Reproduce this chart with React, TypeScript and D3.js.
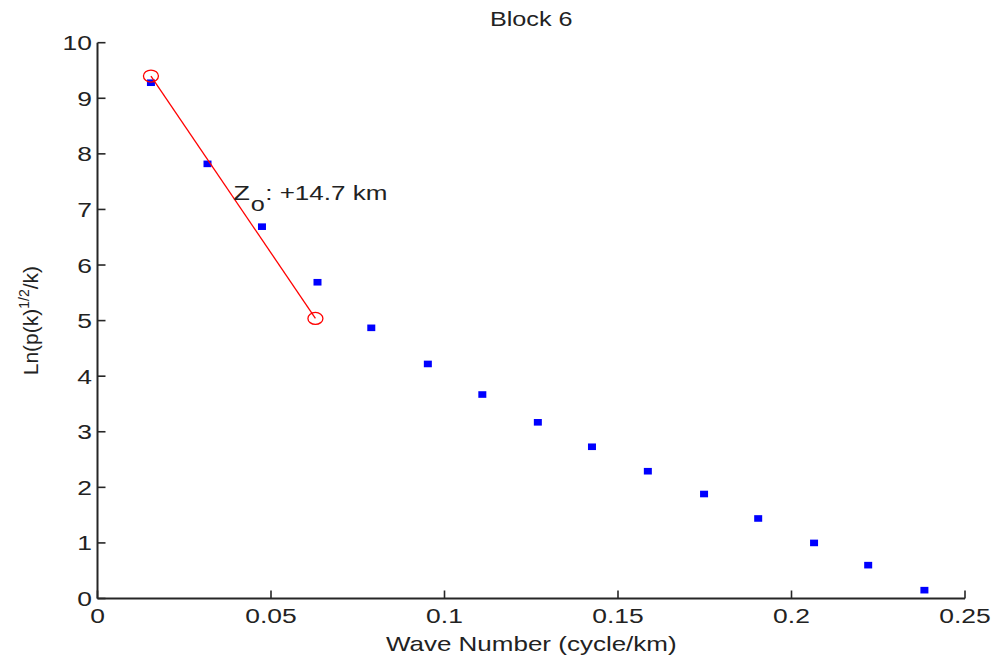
import React from "react";
import * as d3 from "d3";

const waveNumber = [0.0154, 0.0317, 0.0474, 0.0634, 0.0789, 0.0952, 0.1109, 0.1269, 0.1425, 0.1586, 0.1748, 0.1904, 0.2065, 0.2221, 0.2383];
const lnValues = [9.28, 7.82, 6.69, 5.69, 4.87, 4.22, 3.67, 3.17, 2.73, 2.29, 1.88, 1.44, 1.0, 0.6, 0.15];
const fitX = [0.0154, 0.0628];
const fitY = [9.4, 5.04];
const xTicks = [0, 0.05, 0.1, 0.15, 0.2, 0.25];
const xTickLabels = ["0", "0.05", "0.1", "0.15", "0.2", "0.25"];
const yTicks = [0, 1, 2, 3, 4, 5, 6, 7, 8, 9, 10];
const yTickLabels = ["0", "1", "2", "3", "4", "5", "6", "7", "8", "9", "10"];
const titleText = "Block 6";
const xLabel = "Wave Number (cycle/km)";
const annotPos = [0.0391, 7.3];

const W = 996;
const H = 664;
const SX = 1.26; // horizontal stretch of the figure's glyphs
const FONT = "'Liberation Sans', Arial, sans-serif";
const AX = "#262626";

export default function App() {
  const x = d3.scaleLinear().domain([0, 0.25]).range([97.5, 965]);
  const y = d3.scaleLinear().domain([0, 10]).range([598.5, 42.7]);
  const line = d3
    .line<number>()
    .x((_, i) => x(fitX[i]))
    .y((d) => y(d));

  const ax = x(annotPos[0]);
  const ay = y(annotPos[1]);

  return (
    <svg
      width={W}
      height={H}
      style={{ position: "absolute", left: 0, top: 0, background: "#fff" }}
      fontFamily={FONT}
    >
      <rect width={W} height={H} fill="#fff" />
      {/* title */}
      <text
        transform={`translate(${(x(0) + x(0.25)) / 2},26) scale(${SX},1)`}
        textAnchor="middle"
        fontSize={20}
        fill="#222"
      >
        {titleText}
      </text>

      {/* axes */}
      <line x1={x(0)} x2={x(0)} y1={y(0)} y2={y(10)} stroke={AX} strokeWidth={2} />
      <line x1={x(0)} x2={x(0.25)} y1={y(0)} y2={y(0)} stroke={AX} strokeWidth={2} />
      {xTicks.map((t, i) => (
        <g key={"xt" + i}>
          <line x1={x(t)} x2={x(t)} y1={y(0)} y2={y(0) - 8} stroke={AX} strokeWidth={1.6} />
          <text
            transform={`translate(${x(t)},623) scale(${SX},1)`}
            textAnchor="middle"
            fontSize={21}
            fill="#222"
          >
            {xTickLabels[i]}
          </text>
        </g>
      ))}
      {yTicks.map((t, i) => (
        <g key={"yt" + i}>
          <line x1={x(0)} x2={x(0) + 8} y1={y(t)} y2={y(t)} stroke={AX} strokeWidth={1.6} />
          <text
            transform={`translate(92,${y(t) + 7.5}) scale(${SX},1)`}
            textAnchor="end"
            fontSize={21}
            fill="#222"
          >
            {yTickLabels[i]}
          </text>
        </g>
      ))}

      {/* axis labels */}
      <text
        transform={`translate(${(x(0) + x(0.25)) / 2},651) scale(1.3,1)`}
        textAnchor="middle"
        fontSize={20}
        fill="#222"
      >
        {xLabel}
      </text>
      <text
        transform={`translate(38,${(y(0) + y(10)) / 2}) rotate(-90)`}
        textAnchor="middle"
        fontSize={21}
        fill="#222"
      >
        Ln(p(k)
        <tspan dy={-9} fontSize={14}>1/2</tspan>
        <tspan dy={9}>/k)</tspan>
      </text>

      {/* data points */}
      {waveNumber.map((k, i) => (
        <rect
          key={"p" + i}
          x={x(k) - 4}
          y={y(lnValues[i]) - 3.3}
          width={8}
          height={6.6}
          fill="#0000ff"
        />
      ))}

      {/* fit line */}
      <path d={line(fitY) || ""} fill="none" stroke="#ff0000" strokeWidth={1.3} />
      {fitX.map((k, i) => (
        <ellipse
          key={"c" + i}
          cx={x(k)}
          cy={y(fitY[i])}
          rx={7.5}
          ry={6}
          fill="none"
          stroke="#ff0000"
          strokeWidth={1.3}
        />
      ))}

      {/* annotation */}
      <g transform={`translate(${ax},${ay})`} fill="#222" fontSize={21}>
        <text transform={`translate(0,7) scale(1.3,1)`}>Z</text>
        <text transform={`translate(17.5,18) scale(1.2,1)`}>o</text>
        <text transform={`translate(32,7) scale(1.24,1)`}>: +14.7 km</text>
      </g>
    </svg>
  );
}
